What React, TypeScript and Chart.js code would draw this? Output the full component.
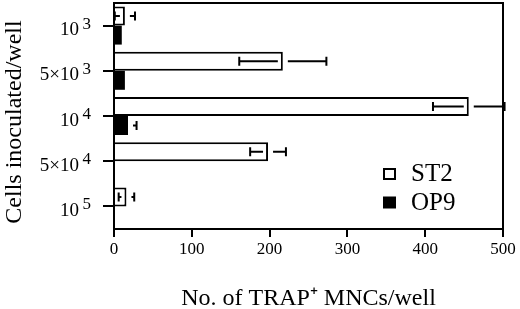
import React, { useEffect, useRef } from "react";
import { Chart, registerables } from "chart.js";

Chart.register(...registerables);

const FONT = "'Liberation Serif', 'Times New Roman', serif";

// Categories (cells inoculated per well), split into mantissa and exponent
const categoryBases = ["10", "5×10", "10", "5×10", "10"];
const categoryExponents = ["3", "3", "4", "4", "5"];
const categories = categoryBases.map((b, i) => `${b}^${categoryExponents[i]}`);

const seriesNames = ["ST2", "OP9"];
const st2Values = [14, 217, 456, 198, 16];
const st2Errors = [13, 56, 46, 23, 10];
const op9Values = [10, 14, 18, 0, 0];
const op9Errors = [0, 0, 11, 0, 0];

const xMin = 0;
const xMax = 500;
const xStep = 100;

const xTitle = "No. of TRAP⁺ MNCs/well";
const yTitle = "Cells inoculated/well";

const errorBarPlugin = {
  id: "errorBars",
  afterDatasetsDraw(chart: any) {
    const ctx = chart.ctx;
    const xs = chart.scales.x;
    chart.data.datasets.forEach((ds: any, di: number) => {
      const errs = ds.errors as number[] | undefined;
      if (!errs) return;
      const meta = chart.getDatasetMeta(di);
      meta.data.forEach((bar: any, j: number) => {
        const v = ds.data[j] as number;
        const e = errs[j];
        if (!e) return;
        const y = bar.y;
        const xv = xs.getPixelForValue(v);
        const lo = xs.getPixelForValue(v - e);
        const hi = xs.getPixelForValue(v + e);
        const gap = 5;
        const cap = 4.5;
        ctx.save();
        ctx.strokeStyle = "#000";
        ctx.lineWidth = 2;
        ctx.beginPath();
        if (xv - gap > lo) {
          ctx.moveTo(lo, y);
          ctx.lineTo(xv - gap, y);
        }
        if (hi > xv + gap) {
          ctx.moveTo(xv + gap, y);
          ctx.lineTo(hi, y);
        }
        ctx.moveTo(lo, y - cap);
        ctx.lineTo(lo, y + cap);
        ctx.moveTo(hi, y - cap);
        ctx.lineTo(hi, y + cap);
        ctx.stroke();
        ctx.restore();
      });
    });
  },
};

const framePlugin = {
  id: "frameAndLabels",
  afterDraw(chart: any) {
    const ctx = chart.ctx;
    const { left, right, top, bottom } = chart.chartArea;
    ctx.save();
    // top and right frame lines
    ctx.strokeStyle = "#000";
    ctx.lineWidth = 2;
    ctx.beginPath();
    ctx.moveTo(left - 1, top);
    ctx.lineTo(right, top);
    ctx.lineTo(right, bottom + 1);
    ctx.stroke();

    // y tick labels with superscript exponents
    const ys = chart.scales.y;
    ctx.fillStyle = "#000";
    ys.ticks.forEach((_t: any, i: number) => {
      const y = ys.getPixelForTick(i);
      ctx.font = `19px ${FONT}`;
      ctx.textAlign = "right";
      ctx.textBaseline = "alphabetic";
      ctx.fillText(categoryBases[i], left - 35, y + 9.5);
      ctx.font = `17px ${FONT}`;
      ctx.textAlign = "left";
      ctx.fillText(categoryExponents[i], left - 31.5, y + 3);
    });

    // y axis title
    ctx.save();
    ctx.translate(15, 122);
    ctx.rotate(-Math.PI / 2);
    ctx.font = `24px ${FONT}`;
    ctx.textAlign = "center";
    ctx.textBaseline = "middle";
    ctx.fillText(yTitle, 0, 0);
    ctx.restore();

    // legend
    const lx = right - 120;
    const ly = bottom - 55;
    chart.data.datasets.forEach((ds: any, i: number) => {
      const cy = ly + i * 28.5;
      if (ds.backgroundColor === "#000") {
        ctx.fillStyle = "#000";
        ctx.fillRect(lx, cy - 6, 13, 12);
      } else {
        ctx.strokeStyle = "#000";
        ctx.lineWidth = 2;
        ctx.strokeRect(lx + 1, cy - 5, 11, 10);
      }
      ctx.fillStyle = "#000";
      ctx.font = `25px ${FONT}`;
      ctx.textAlign = "left";
      ctx.textBaseline = "middle";
      ctx.fillText(ds.label, lx + 28, cy + 0.5);
    });
    ctx.restore();
  },
};

export default function App() {
  const ref = useRef<HTMLCanvasElement | null>(null);

  useEffect(() => {
    if (!ref.current) return;
    const chart = new Chart(ref.current, {
      type: "bar",
      data: {
        labels: categories,
        datasets: [
          {
            label: seriesNames[0],
            data: st2Values,
            errors: st2Errors,
            backgroundColor: "#fff",
            borderColor: "#000",
            borderWidth: 2,
            barPercentage: 1,
            categoryPercentage: 0.84,
          } as any,
          {
            label: seriesNames[1],
            data: op9Values,
            errors: op9Errors,
            backgroundColor: "#000",
            borderColor: "#000",
            borderWidth: 0,
            barPercentage: 1,
            categoryPercentage: 0.84,
          } as any,
        ],
      },
      options: {
        indexAxis: "y",
        responsive: false,
        animation: false,
        layout: { padding: { top: 3, right: 17, left: 0, bottom: 0 } },
        plugins: {
          legend: { display: false },
          tooltip: { enabled: false },
        },
        scales: {
          x: {
            type: "linear",
            min: xMin,
            max: xMax,
            ticks: {
              stepSize: xStep,
              color: "#000",
              font: { family: FONT, size: 17 },
              padding: 2,
              maxRotation: 0,
            },
            grid: {
              drawOnChartArea: false,
              drawTicks: true,
              tickLength: 8,
              color: "#000",
              lineWidth: 2,
            },
            border: { display: true, color: "#000", width: 2 },
            title: {
              display: true,
              text: xTitle,
              color: "#000",
              font: { family: FONT, size: 24, lineHeight: 0.85 },
              padding: { top: 0, bottom: 0 },
            },
            afterFit(scale: any) {
              scale.height = 80;
            },
          },
          y: {
            type: "category",
            offset: true,
            ticks: { display: false },
            grid: {
              display: true,
              drawOnChartArea: false,
              drawTicks: true,
              tickLength: 11,
              color: "#000",
              lineWidth: 2,
              offset: false,
            },
            border: { display: true, color: "#000", width: 2 },
            title: { display: false },
            afterFit(scale: any) {
              scale.width = 114;
            },
          },
        },
      } as any,
      plugins: [errorBarPlugin, framePlugin],
    });
    return () => chart.destroy();
  }, []);

  return (
    <div style={{ position: "absolute", left: 0, top: 0, width: 520, height: 309, background: "#fff" }}>
      <canvas ref={ref} width={520} height={309} style={{ display: "block" }} />
    </div>
  );
}
